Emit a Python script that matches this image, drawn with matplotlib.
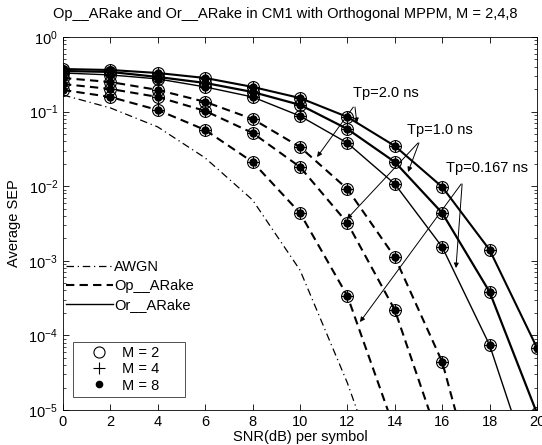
import numpy as np
import matplotlib
matplotlib.use('Agg')
import matplotlib.pyplot as plt
from matplotlib.lines import Line2D

plt.rcParams['font.family'] = ['Liberation Sans', 'DejaVu Sans']
plt.rcParams['mathtext.fontset'] = 'custom'
plt.rcParams['mathtext.rm'] = 'Liberation Sans'
plt.rcParams['mathtext.it'] = 'Liberation Sans'

# SNR grid (dB) where the markers sit
snr = [0, 2, 4, 6, 8, 10, 12, 14, 16, 18, 20]

# AWGN reference
awgn_snr = [0, 2, 4, 6, 8, 10, 12, 14]
awgn_sep = [0.167, 0.112, 0.0622, 0.0239, 0.00653, 7.5e-4, 2.3e-5, 3.7e-7]

# Op__ARake, Tp = 2.0 / 1.0 / 0.167 ns
op_snr_20 = [0, 2, 4, 6, 8, 10, 12, 14, 16, 18]
op_sep_20 = [0.282, 0.249, 0.195, 0.135, 0.0796, 0.0335, 0.00917, 0.00112, 4.4e-5, 2e-7]
op_snr_10 = [0, 2, 4, 6, 8, 10, 12, 14, 16]
op_sep_10 = [0.234, 0.201, 0.157, 0.102, 0.0517, 0.0181, 0.00321, 2.19e-4, 3e-6]
op_snr_0167 = [0, 2, 4, 6, 8, 10, 12, 14]
op_sep_0167 = [0.195, 0.157, 0.105, 0.0567, 0.0211, 0.00437, 3.37e-4, 5.4e-6]

# Or__ARake, Tp = 2.0 / 1.0 / 0.167 ns
or_sep_20 = [0.372, 0.361, 0.329, 0.282, 0.214, 0.152, 0.0847, 0.0346, 0.00976, 0.0014, 6.8e-5]
or_sep_10 = [0.350, 0.340, 0.291, 0.242, 0.183, 0.123, 0.0584, 0.0211, 0.00437, 3.82e-4, 9e-6]
or_sep_0167 = [0.329, 0.310, 0.274, 0.214, 0.157, 0.0873, 0.0379, 0.0107, 0.00153, 7.4e-5, 9e-7]

m_labels = ['M = 2', 'M = 4', 'M = 8']

fs = 10.5
fig = plt.figure(figsize=(5.42, 4.45), dpi=100)
ax = fig.add_axes([0.1162, 0.0787, 0.8746, 0.8382])

dash = (0, (4, 2.5))
dashdot = (0, (6, 3, 1, 3))

ax.plot(awgn_snr, awgn_sep, color='k', lw=0.9, linestyle=dashdot)
for x, y in [(op_snr_20, op_sep_20), (op_snr_10, op_sep_10), (op_snr_0167, op_sep_0167)]:
    ax.plot(x, y, color='k', lw=1.5, linestyle=dash)
for y, w in [(or_sep_20, 1.5), (or_sep_10, 1.6), (or_sep_0167, 1.0)]:
    ax.plot(snr, y, color='k', lw=w, linestyle='-')

# markers for M = 2, 4, 8 (they coincide on the plot)
curves = [(op_snr_20, op_sep_20), (op_snr_10, op_sep_10), (op_snr_0167, op_sep_0167),
          (snr, or_sep_20), (snr, or_sep_10), (snr, or_sep_0167)]
for x, y in curves:
    ax.plot(x, y, 'o', mfc='none', mec='k', ms=8.5, mew=0.8)
    ax.plot(x, y, '+', color='k', ms=8, mew=0.8)
    ax.plot(x, y, '.', color='k', ms=10)

ax.set_yscale('log')
ax.set_xlim(0, 20)
ax.set_ylim(1e-5, 1)
ax.set_xticks([0, 2, 4, 6, 8, 10, 12, 14, 16, 18, 20])
ax.tick_params(which='both', direction='in', top=True, right=True, labelsize=fs)
ax.tick_params(which='major', length=4, width=0.6)
ax.tick_params(which='minor', length=2, width=0.5)
for s in ax.spines.values():
    s.set_linewidth(0.6)

ax.set_title('Op__ARake and Or__ARake in CM1 with Orthogonal MPPM, M = 2,4,8',
             fontsize=fs, x=0.468, pad=14)
ax.set_xlabel('SNR(dB) per symbol', fontsize=fs, labelpad=1)
ax.set_ylabel('Average SEP', fontsize=fs, labelpad=5)

# Tp annotations
arrow = dict(arrowstyle='-|>', color='k', lw=0.7, mutation_scale=7, shrinkA=0, shrinkB=0)
ax.text(13.63, 0.178, 'Tp=2.0 ns', ha='center', va='center', fontsize=fs)
ax.annotate('', xy=(12.4, 0.0703), xytext=(12.32, 0.115), arrowprops=arrow)
ax.annotate('', xy=(10.72, 0.0246), xytext=(12.25, 0.115), arrowprops=arrow)
ax.text(15.91, 0.0567, 'Tp=1.0 ns', ha='center', va='center', fontsize=fs)
ax.annotate('', xy=(14.56, 0.0155), xytext=(15.02, 0.038), arrowprops=arrow)
ax.annotate('', xy=(11.98, 0.00363), xytext=(14.98, 0.038), arrowprops=arrow)
ax.text(17.89, 0.0175, 'Tp=0.167 ns', ha='center', va='center', fontsize=fs)
ax.annotate('', xy=(16.58, 8.0e-4), xytext=(16.84, 0.0107), arrowprops=arrow)
ax.annotate('', xy=(12.53, 1.51e-4), xytext=(16.8, 0.0107), arrowprops=arrow)

# legend for line styles
line_handles = [Line2D([], [], color='k', lw=0.9, linestyle=dashdot),
                Line2D([], [], color='k', lw=1.5, linestyle=dash),
                Line2D([], [], color='k', lw=1.0, linestyle='-')]
leg1 = ax.legend(line_handles, ['AWGN', 'Op__ARake', 'Or__ARake'], loc='upper left',
                 bbox_to_anchor=(0.0, 0.41), frameon=False, fontsize=fs,
                 handlelength=3.2, handletextpad=0.1, labelspacing=0.35,
                 borderpad=0, borderaxespad=0.2)
ax.add_artist(leg1)

# legend for M markers
m_handles = [Line2D([], [], linestyle='none', marker='o', mfc='none', mec='k', ms=8, mew=0.8),
             Line2D([], [], linestyle='none', marker='+', color='k', ms=9, mew=0.8),
             Line2D([], [], linestyle='none', marker='.', color='k', ms=9)]
leg2 = ax.legend(m_handles, m_labels, loc='lower left',
                 bbox_to_anchor=(0.021, 0.035, 0.236, 0.16), mode='expand',
                 fontsize=fs, frameon=True, fancybox=False, handlelength=3.0,
                 handletextpad=0.05, labelspacing=0.15, borderpad=0.3, borderaxespad=0)
leg2.get_frame().set_edgecolor('k')
leg2.get_frame().set_linewidth(0.6)

fig.savefig('out.png', dpi=100)
